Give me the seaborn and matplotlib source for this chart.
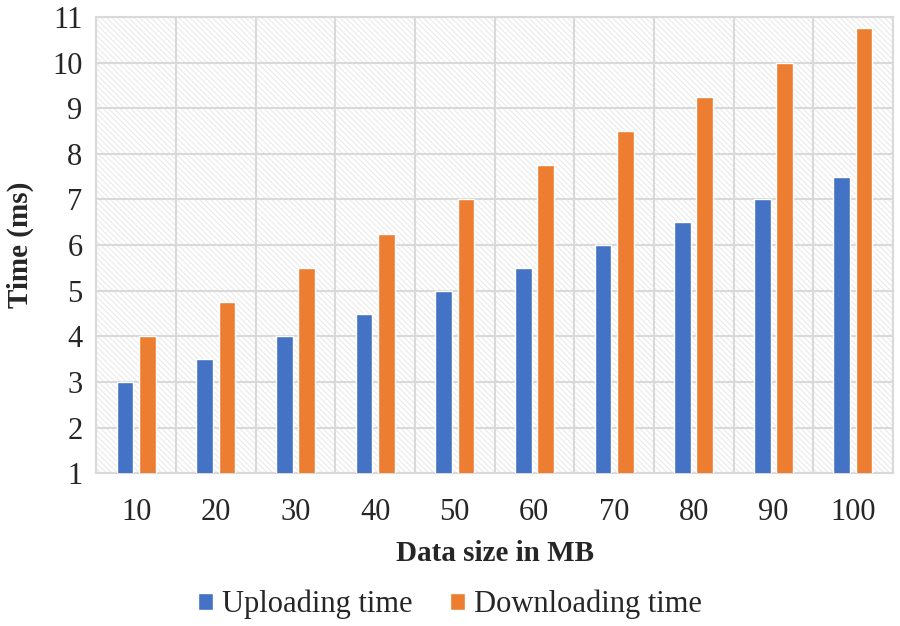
import numpy as np
import pandas as pd
import matplotlib
matplotlib.use("Agg")
import matplotlib.pyplot as plt
from matplotlib.patches import Rectangle
from matplotlib.ticker import FixedLocator
import seaborn as sns

sizes = ["10", "20", "30", "40", "50", "60", "70", "80", "90", "100"]
upload = [3, 3.5, 4, 4.5, 5, 5.5, 6, 6.5, 7, 7.5]
download = [4, 4.75, 5.5, 6.25, 7, 7.75, 8.5, 9.25, 10, 10.75]

df = pd.DataFrame({
    "size": sizes * 2,
    "time": upload + download,
    "kind": ["Uploading time"] * len(sizes) + ["Downloading time"] * len(sizes),
})

sns.set_style("white")
plt.rcParams["font.family"] = ["Liberation Serif", "DejaVu Serif"]
plt.rcParams["hatch.color"] = "#e4e4e4"
plt.rcParams["hatch.linewidth"] = 0.6

fig, ax = plt.subplots(figsize=(9, 6.26), dpi=100)
fig.subplots_adjust(left=0.107, right=0.992, top=0.973, bottom=0.244)

# hatched plot background
ax.add_patch(Rectangle((0, 0), 1, 1, transform=ax.transAxes, facecolor="white",
                       edgecolor="#e4e4e4", hatch="\\\\\\\\\\\\", linewidth=0, zorder=0))

sns.barplot(data=df, x="size", y="time", hue="kind", palette=["#4472c4", "#ed7d31"],
            width=0.56, gap=0.25, ax=ax, zorder=3, saturation=1)

ax.set_ylim(1, 11)
ax.set_xlim(-0.5, len(sizes) - 0.5)
ax.set_yticks(range(1, 12))
ax.xaxis.set_minor_locator(FixedLocator(np.arange(-0.5, len(sizes), 1)))
ax.grid(axis="y", which="major", color="#d9d9d9", linewidth=1.5, zorder=1)
ax.grid(axis="x", which="minor", color="#d9d9d9", linewidth=1.5, zorder=1)
ax.grid(axis="x", which="major", visible=False)
ax.set_axisbelow(True)
for s in ax.spines.values():
    s.set_color("#d9d9d9")
    s.set_linewidth(1.5)
ax.tick_params(axis="both", which="both", length=0, labelsize=22)
ax.tick_params(axis="x", pad=18)
ax.tick_params(axis="y", pad=10)

ax.set_xlabel("Data size in MB", fontsize=21, fontweight="bold", labelpad=9)
ax.set_ylabel("Time (ms)", fontsize=21, fontweight="bold", labelpad=13)

ax.legend(loc="center", bbox_to_anchor=(0.5, 0.034), bbox_transform=fig.transFigure,
          ncol=2, frameon=False, fontsize=22, handlelength=0.5, handleheight=0.5,
          handletextpad=0.3, columnspacing=1.2)

fig.savefig("out.png", dpi=100)
